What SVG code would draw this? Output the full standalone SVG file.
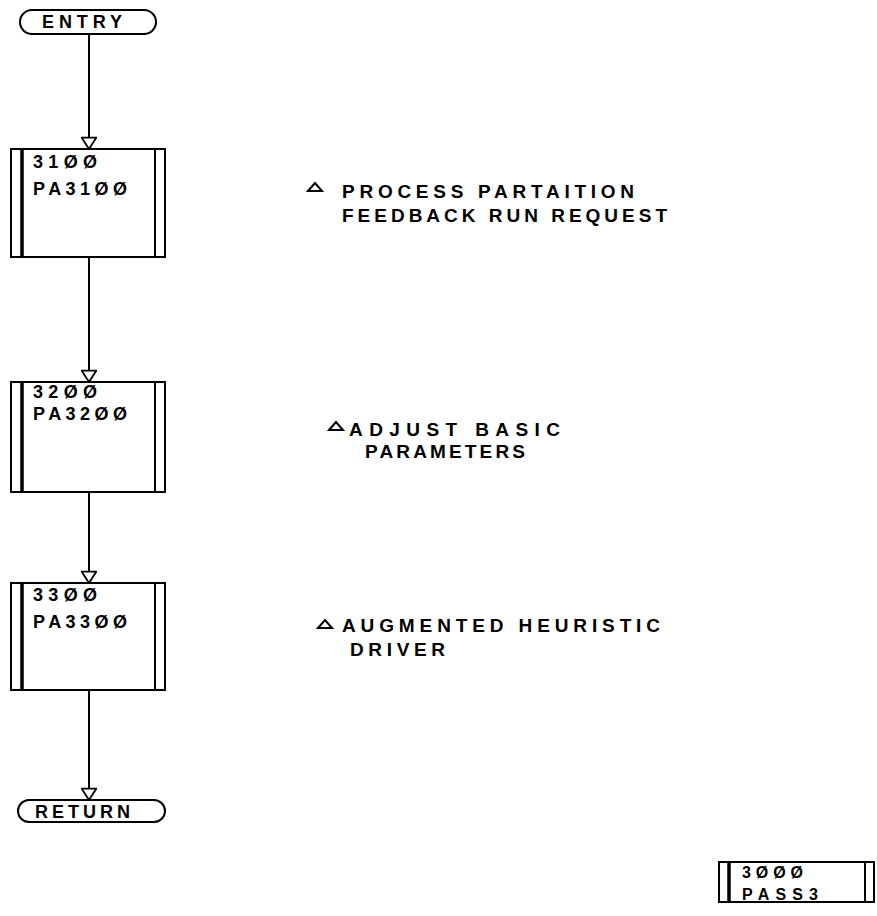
<svg xmlns="http://www.w3.org/2000/svg" width="877" height="916" viewBox="0 0 877 916">
<style>
.ln{stroke:#000;stroke-width:2;fill:none}
.thk{stroke:#000;stroke-width:3.5;fill:none}
.tri{stroke:#000;stroke-width:2;fill:#fff}
.t{font-family:"Liberation Sans",Arial,sans-serif;font-weight:bold;font-size:18px;fill:#000}
.d{font-family:"Liberation Sans",Arial,sans-serif;font-weight:bold;font-size:19px;fill:#000}
.s{font-family:"Liberation Sans",Arial,sans-serif;font-weight:bold;font-size:16px;fill:#000}
</style>
<defs>
<marker id="arr" markerWidth="14" markerHeight="16" refX="11" refY="7" orient="auto" markerUnits="userSpaceOnUse" viewBox="0 0 12 14">
<path d="M1,0.5 L11,7 L1,13.5 Z" fill="#fff" stroke="#000" stroke-width="1.6"/>
</marker>
</defs>
<rect width="877" height="916" fill="#fff"/>
<g id="connectors">
<line class="ln" x1="89" y1="34" x2="89" y2="149" marker-end="url(#arr)"/>
<line class="ln" x1="89" y1="258" x2="89" y2="382" marker-end="url(#arr)"/>
<line class="ln" x1="89" y1="492" x2="89" y2="583" marker-end="url(#arr)"/>
<line class="ln" x1="89" y1="690" x2="89" y2="800" marker-end="url(#arr)"/>
</g>
<g id="entry">
<rect class="ln" x="20" y="10" width="136" height="24" rx="12" ry="12"/>
<text class="t" x="42" y="28" textLength="80">ENTRY</text>
</g>
<g id="n3100">
<rect class="ln" x="11" y="149" width="154" height="108"/>
<line class="thk" x1="22" y1="149" x2="22" y2="257"/>
<line class="ln" x1="155" y1="149" x2="155" y2="257"/>
<text class="t" x="33" y="168" textLength="64">31ØØ</text>
<text class="t" x="33" y="195" textLength="94">PA31ØØ</text>
</g>
<g id="n3200">
<rect class="ln" x="11" y="382" width="154" height="110"/>
<line class="thk" x1="22" y1="382" x2="22" y2="492"/>
<line class="ln" x1="155" y1="382" x2="155" y2="492"/>
<text class="t" x="33" y="398" textLength="64">32ØØ</text>
<text class="t" x="33" y="420" textLength="94">PA32ØØ</text>
</g>
<g id="n3300">
<rect class="ln" x="11" y="583" width="154" height="107"/>
<line class="thk" x1="22" y1="583" x2="22" y2="690"/>
<line class="ln" x1="155" y1="583" x2="155" y2="690"/>
<text class="t" x="33" y="601" textLength="64">33ØØ</text>
<text class="t" x="33" y="628" textLength="94">PA33ØØ</text>
</g>
<g id="return">
<rect class="ln" x="18" y="800" width="147" height="22" rx="11" ry="11"/>
<text class="t" x="35" y="818" textLength="95">RETURN</text>
</g>
<g id="note3100">
<path class="tri" d="M308,191 L315,183 L322,191 Z"/>
<text class="d" x="342" y="198" textLength="292">PROCESS PARTAITION</text>
<text class="d" x="342" y="222" textLength="325">FEEDBACK RUN REQUEST</text>
</g>
<g id="note3200">
<path class="tri" d="M329,430 L336,422 L343,430 Z"/>
<text class="d" x="349" y="436" textLength="211">ADJUST BASIC</text>
<text class="d" x="365" y="458" textLength="160">PARAMETERS</text>
</g>
<g id="note3300">
<path class="tri" d="M318,628 L325,620 L332,628 Z"/>
<text class="d" x="342" y="632" textLength="318">AUGMENTED HEURISTIC</text>
<text class="d" x="350" y="656" textLength="95">DRIVER</text>
</g>
<g id="n3000">
<rect class="ln" x="719" y="862" width="155" height="40"/>
<line class="thk" x1="729" y1="862" x2="729" y2="902"/>
<line class="ln" x1="865" y1="862" x2="865" y2="902"/>
<text class="s" x="742" y="878" textLength="61">3ØØØ</text>
<text class="s" x="742" y="900" textLength="76">PASS3</text>
</g>
</svg>
